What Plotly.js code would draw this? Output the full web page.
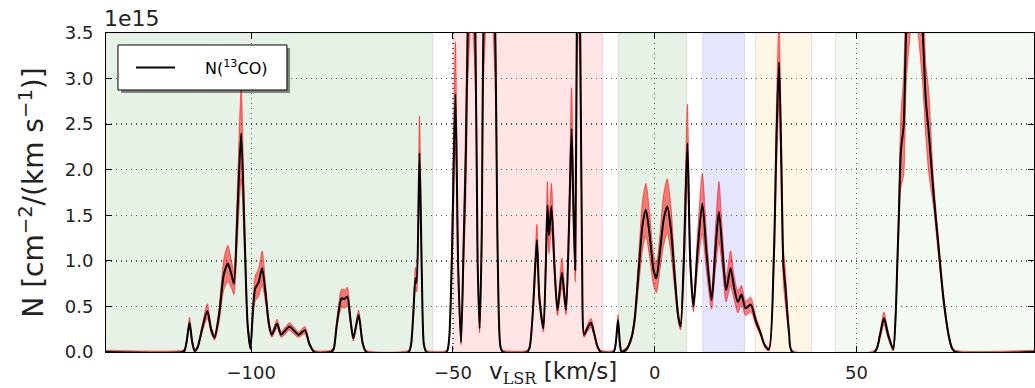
<!DOCTYPE html>
<html>
<head>
<meta charset="utf-8">
<script src="https://cdn.plot.ly/plotly-3.0.1.min.js"></script>
<style>html,body{margin:0;padding:0;background:#fff;}#chart{width:1035px;height:388px;}</style>
</head>
<body>
<div id="chart"></div>
<script>
// velocity (km/s)
var vel = [-136,-117.0,-116.5,-116.0,-115.3,-114.6,-114.0,-113.3,-112.2,-110.9,-109.9,-109.1,-108.0,-106.8,-105.8,-104.9,-104.3,-103.4,-102.5,-101.6,-100.9,-100.2,-99.6,-99.0,-98.2,-97.3,-96.4,-95.6,-94.9,-93.6,-92.6,-91.5,-90.5,-89.3,-88.3,-86.7,-85.6,-84.4,
 -80.3,-79.6,-78.8,-77.6,-76.9,-76.2,-75.4,-74.7,-73.4,-72.4,-71.5,
 -61.0,-60.4,-59.8,-59.3,-59.0,-58.3,-57.7,-57.2,-56.6,
 -51.6,-51.0,-50.3,-49.4,-48.7,-48.0,-47.4,-46.8,-46.3,-45.4,-44.5,-43.9,-43.4,-42.9,-42.4,-41.0,-39.6,-38.9,-38.2,-37.6,
 -31.6,-31.0,-30.2,-29.2,-28.6,-27.6,-27.0,-26.6,-26.2,-25.6,-24.8,-24.1,-23.0,-22.0,-21.3,-20.6,-20.1,-19.7,-19.3,-18.9,-18.5,-18.0,-17.5,-16.6,-15.8,-15.0,-14.2,-13.4,
 -10.2,-9.7,-9.1,-8.6,-8.2,-7.0,-5.8,-5.0,-3.9,-3.0,-2.2,-1.3,-0.3,0.4,1.3,2.2,3.1,4.0,5.0,5.8,6.4,7.2,8.1,8.8,9.6,10.6,11.8,12.9,14.1,15.0,15.9,16.8,17.7,18.8,19.7,20.6,21.5,22.5,23.8,25.0,26.2,27.3,28.3,29.5,30.2,30.8,31.4,31.9,32.4,33.3,34.1,
 54.5,55.8,56.8,57.9,59.1,59.7,60.1,60.5,61.0,61.7,62.4,64.3,66.3,67.2,67.9,69.1,70.4,71.6,72.9,73.7,74.5,94];
// N(13CO) in units of 1e15 cm^-2/(km/s)
var n13co = [0,0,0.02,0.12,0.32,0.10,0.01,0.05,0.25,0.45,0.24,0.16,0.40,0.85,0.97,0.85,0.75,1.55,2.40,1.20,0.30,0.04,0.45,0.70,0.76,0.92,0.62,0.30,0.19,0.31,0.19,0.24,0.28,0.23,0.19,0.24,0.09,0,
 0,0.03,0.30,0.59,0.58,0.61,0.35,0.15,0.41,0.10,0,
 0,0.08,0.45,0.81,0.76,2.18,0.80,0.08,0,
 0,0.12,1.00,2.83,0.90,0.11,1.10,2.20,3.60,4.50,3.60,1.00,0.26,1.20,3.60,5.00,3.60,1.00,0.05,0,
 0,0.05,0.45,1.23,0.60,0.26,0.95,1.61,1.28,1.60,0.90,0.46,0.87,0.46,1.30,2.45,1.50,0.90,3.60,4.30,3.60,1.00,0.19,0.27,0.32,0.20,0.06,0,
 0,0.08,0.35,0.08,0,0.03,0.15,0.35,0.94,1.40,1.56,1.30,0.90,0.81,1.10,1.45,1.60,1.35,0.80,0.40,0.28,1.00,2.29,1.00,0.50,1.10,1.63,1.05,0.57,1.10,1.54,1.10,0.68,0.92,0.70,0.55,0.63,0.48,0.52,0.35,0.21,0.07,0.03,1.01,2.40,3.18,2.03,0.94,0.70,0.21,0,
 0,0.18,0.37,0.18,0.03,0.39,0.94,1.49,2.20,2.49,3.60,4.60,3.60,2.75,2.42,1.74,1.12,0.57,0.17,0.04,0,0];
// 1-sigma uncertainty (same units)
var n13coErr = [0.02,0.02,0.02,0.03,0.06,0.03,0.02,0.02,0.04,0.08,0.04,0.03,0.08,0.17,0.20,0.15,0.12,0.30,0.50,0.20,0.05,0.02,0.10,0.14,0.15,0.19,0.10,0.05,0.03,0.05,0.03,0.04,0.04,0.04,0.03,0.04,0.02,0.02,
 0.02,0.02,0.05,0.10,0.10,0.10,0.06,0.03,0.05,0.02,0.02,
 0.02,0.02,0.08,0.12,0.10,0.41,0.12,0.02,0.02,
 0.02,0.03,0.20,0.57,0.15,0.03,0.25,0.50,0.60,0.80,0.60,0.10,0.05,0.20,0.60,0.80,0.60,0.10,0.02,0.02,
 0.02,0.02,0.07,0.17,0.08,0.04,0.15,0.26,0.20,0.25,0.12,0.06,0.16,0.05,0.20,0.45,0.25,0.13,0.60,0.70,0.60,0.10,0.03,0.04,0.05,0.03,0.02,0.02,
 0.02,0.02,0.06,0.02,0.02,0.02,0.03,0.06,0.18,0.27,0.29,0.25,0.17,0.16,0.20,0.28,0.30,0.26,0.14,0.06,0.04,0.20,0.43,0.15,0.06,0.20,0.33,0.20,0.10,0.22,0.33,0.20,0.13,0.19,0.13,0.12,0.10,0.08,0.08,0.05,0.03,0.02,0.02,0.15,0.40,0.45,0.35,0.20,0.19,0.04,0.02,
 0.02,0.04,0.07,0.04,0.02,0.05,0.10,0.20,0.40,0.55,0.60,0.80,0.60,0.40,0.45,0.15,0.10,0.06,0.03,0.02,0.02,0.02];

// velocity ranges of the shaded components
var bandLo = [-140, -50, -9, 11.9, 25.0, 44.8];
var bandHi = [-55, -12.9, 7.9, 22.3, 38.9, 100];
var bandColors = ['rgba(0,128,0,0.1)','rgba(255,0,0,0.1)','rgba(0,128,0,0.1)','rgba(0,0,255,0.1)','rgba(255,165,0,0.1)','rgba(0,160,0,0.05)'];

var xTicks = [-100, -50, 0, 50];
var yTicks = [0, 0.5, 1.0, 1.5, 2.0, 2.5, 3.0, 3.5];
var seriesName = 'N(<sup>13</sup>CO)';

var upper = n13co.map(function(v,i){return v + n13coErr[i];});
var lower = n13co.map(function(v,i){return Math.max(0, v - n13coErr[i]);});

var lineShape = {shape:'spline', smoothing:0.7};
var traces = [
  {x: vel, y: upper, mode:'lines', line: Object.assign({color:'rgba(255,0,0,0.5)', width:1}, lineShape), showlegend:false, hoverinfo:'skip'},
  {x: vel, y: lower, mode:'lines', fill:'tonexty', fillcolor:'rgba(255,0,0,0.5)', line: Object.assign({color:'rgba(255,0,0,0.5)', width:1}, lineShape), showlegend:false, hoverinfo:'skip'},
  {x: vel, y: n13co, mode:'lines', name:seriesName, showlegend:false, line: Object.assign({color:'#000', width:2}, lineShape)}
];

var shapes = bandLo.map(function(lo,i){
  return {type:'rect', xref:'x', yref:'paper', x0:lo, x1:bandHi[i], y0:0, y1:1, fillcolor:bandColors[i], line:{color:'rgba(0,0,0,0.1)', width:1}, layer:'below'};
});
// legend box (shadow, frame, sample line)
shapes.push({type:'rect', xref:'paper', yref:'paper', x0:0.0162, x1:0.1983, y0:0.8119, y1:0.9530, fillcolor:'rgba(0,0,0,0.45)', line:{width:0}, layer:'above'});
shapes.push({type:'rect', xref:'paper', yref:'paper', x0:0.0129, x1:0.1950, y0:0.8213, y1:0.9624, fillcolor:'#fff', line:{color:'#000', width:1}, layer:'above'});
shapes.push({type:'line', xref:'paper', yref:'paper', x0:0.0323, x1:0.0744, y0:0.8918, y1:0.8918, line:{color:'#000', width:2}, layer:'above'});

var font = 'DejaVu Sans, sans-serif';
var layout = {
  width:1035, height:388,
  margin:{l:106, r:1, t:33, b:36},
  paper_bgcolor:'#fff', plot_bgcolor:'#fff',
  font:{family:font, color:'#222'},
  showlegend:false,
  xaxis:{range:[-136,94], tickvals:xTicks, ticks:'inside', ticklen:6, tickcolor:'#000', mirror:'ticks', showline:true, linecolor:'#000', linewidth:1,
         showgrid:true, gridcolor:'rgba(0,0,0,0.65)', griddash:'1px,4px', gridwidth:1.3, zeroline:false, tickfont:{size:18, family:font, color:'#222'}, ticklabelstandoff:4},
  yaxis:{range:[0,3.5], tickvals:yTicks, tickformat:'.1f', ticks:'inside', ticklen:6, tickcolor:'#000', mirror:'ticks', showline:true, linecolor:'#000', linewidth:1,
         showgrid:true, gridcolor:'rgba(0,0,0,0.65)', griddash:'1px,4px', gridwidth:1.3, zeroline:false, tickfont:{size:18, family:font, color:'#222'}, ticklabelstandoff:8,
         title:{text:'N [cm<sup>\u22122</sup>/(km s<sup>\u22121</sup>)]', font:{size:28, family:font, color:'#222'}, standoff:12}},
  shapes: shapes,
  annotations:[
    {xref:'paper', yref:'paper', x:-0.004, y:1.0, xanchor:'left', yanchor:'bottom', text:'1e15', showarrow:false, font:{size:22, family:font, color:'#222'}},
    {xref:'paper', yref:'paper', x:0.4817, y:-0.012, xanchor:'center', yanchor:'top', text:'v<sub><span style="font-family:DejaVu Serif, serif">LSR</span></sub> [km/s]', showarrow:false, font:{size:23, family:font, color:'#222'}},
    {xref:'paper', yref:'paper', x:0.1045, y:0.8918, xanchor:'left', yanchor:'middle', text:seriesName, showarrow:false, font:{size:16, family:font, color:'#000'}}
  ]
};
Plotly.newPlot('chart', traces, layout, {displayModeBar:false, staticPlot:true});
</script>
</body>
</html>
